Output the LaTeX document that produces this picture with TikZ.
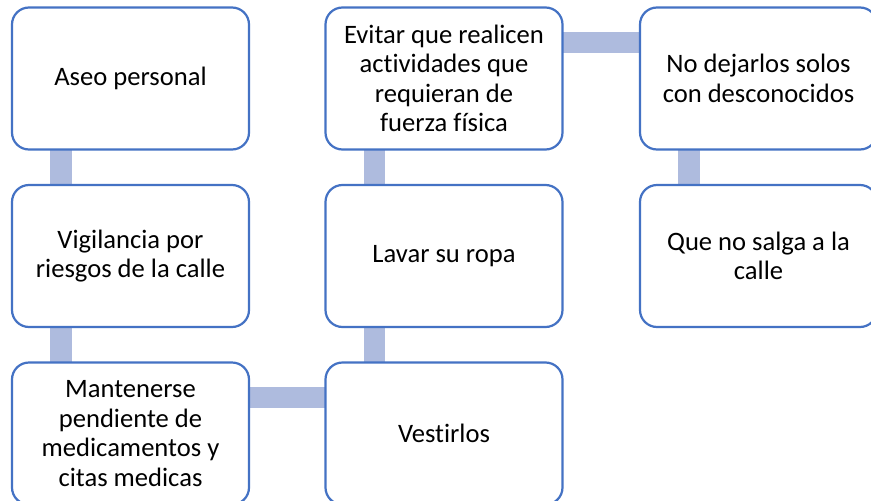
\documentclass[tikz,border=0pt]{standalone}
\usepackage{fontspec}
\setmainfont{Carlito}[Ligatures=NoCommon]
\usetikzlibrary{backgrounds}
\definecolor{boxblue}{HTML}{4472C4}
\definecolor{connblue}{HTML}{AEBBDE}
\tikzset{
  stepbox/.style={draw=boxblue, line width=2.2pt, fill=white, rounded corners=17pt,
    minimum width=237pt, minimum height=142pt, inner sep=0pt, outer sep=0pt,
    align=center, text=black, font=\fontsize{26.6}{29.5}\selectfont},
  conn/.style={draw=connblue, line width=21.5pt}
}
\begin{document}
\begin{tikzpicture}[x=1pt,y=-1pt]
\useasboundingbox (0,0) rectangle (871,501);
\clip (0,0) rectangle (871,501);
\node[stepbox] (a) at (130.5,78.5) {Aseo personal};
\node[stepbox] (b) at (130.5,256) {Vigilancia por\\riesgos de la calle};
\node[stepbox] (c) at (130.5,433.5) {Mantenerse\\pendiente de\\medicamentos y\\citas medicas};
\node[stepbox] (d) at (444,433.5) {Vestirlos};
\node[stepbox] (e) at (444,256) {Lavar su ropa};
\node[stepbox] (f) at (444,78.5) {Evitar que realicen\\actividades que\\requieran de\\fuerza física};
\node[stepbox] (g) at (758.5,78.5) {No dejarlos solos\\con desconocidos};
\node[stepbox] (h) at (758.5,256) {Que no salga a la\\calle};
\begin{pgfonlayer}{background}
\fill[white] (0,0) rectangle (871,501);
\draw[conn] ([xshift=49pt]a.south west) -- ([xshift=49pt]b.north west);
\draw[conn] ([xshift=49pt]b.south west) -- ([xshift=49pt]c.north west);
\draw[conn] ([yshift=-35pt]c.north east) -- ([yshift=-35pt]d.north west);
\draw[conn] ([xshift=49pt]d.north west) -- ([xshift=49pt]e.south west);
\draw[conn] ([xshift=49pt]e.north west) -- ([xshift=49pt]f.south west);
\draw[conn] ([yshift=-35pt]f.north east) -- ([yshift=-35pt]g.north west);
\draw[conn] ([xshift=49pt]g.south west) -- ([xshift=49pt]h.north west);
\end{pgfonlayer}
\end{tikzpicture}
\end{document}
